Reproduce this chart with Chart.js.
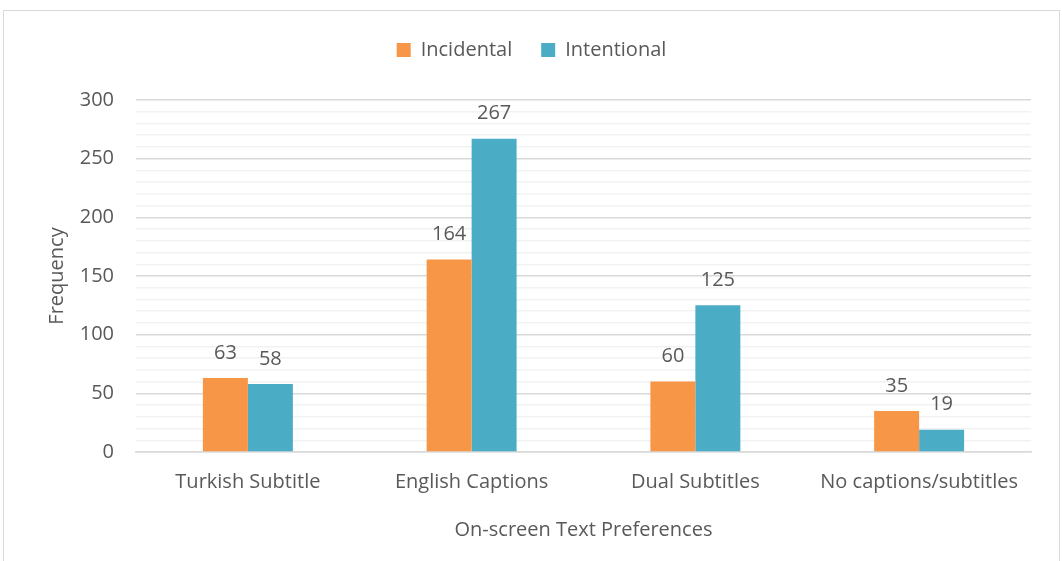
<!DOCTYPE html>
<html>
<head>
<meta charset="utf-8">
<script src="https://cdn.jsdelivr.net/npm/chart.js@4"></script>
<style>
  html, body { margin: 0; padding: 0; background: #fff; overflow: hidden; }
  #frame {
    position: absolute; left: 3px; top: 10px;
    width: 1055px; height: 551px;
    border: 1px solid #d9d9d9;
  }
</style>
</head>
<body>
<div id="frame"><canvas id="chart"></canvas></div>
<script>
const categories = ["Turkish Subtitle", "English Captions", "Dual Subtitles", "No captions/subtitles"];
const incidental = [63, 164, 60, 35];
const intentional = [58, 267, 125, 19];
const seriesNames = ["Incidental", "Intentional"];

const FONT = "'Open Sans', sans-serif";
const TEXT = "#595959";
const SIZE = 20;

// value labels above bars
const barLabels = {
  id: "barLabels",
  afterDatasetsDraw(chart) {
    const ctx = chart.ctx;
    ctx.save();
    ctx.font = SIZE + "px " + FONT;
    ctx.fillStyle = TEXT;
    ctx.textAlign = "center";
    ctx.textBaseline = "middle";
    chart.data.datasets.forEach((ds, i) => {
      chart.getDatasetMeta(i).data.forEach((bar, j) => {
        ctx.fillText(ds.data[j], bar.x, bar.y - 25);
      });
    });
    ctx.restore();
  }
};

// stretch the legend box so the plot starts lower
const legendSpace = {
  id: "legendSpace",
  beforeInit(chart) {
    const fit = chart.legend.fit;
    chart.legend.fit = function () {
      fit.call(this);
      this.height = 89;
    };
  }
};

new Chart(document.getElementById("chart"), {
  type: "bar",
  data: {
    labels: categories,
    datasets: [
      { label: seriesNames[0], data: incidental, backgroundColor: "#F79646" },
      { label: seriesNames[1], data: intentional, backgroundColor: "#4BACC6" }
    ]
  },
  options: {
    responsive: true,
    maintainAspectRatio: false,
    animation: false,
    layout: { padding: 0 },
    datasets: { bar: { categoryPercentage: 0.402, barPercentage: 1 } },
    plugins: {
      tooltip: { enabled: false },
      legend: {
        position: "top",
        labels: {
          font: { family: FONT, size: SIZE },
          color: TEXT,
          boxWidth: 14,
          boxHeight: 14,
          padding: 29
        }
      }
    },
    scales: {
      x: {
        grid: { display: false, drawTicks: false },
        border: { color: "#d9d9d9", width: 1.5 },
        ticks: { font: { family: FONT, size: SIZE }, color: TEXT, padding: 18 },
        title: {
          display: true,
          text: "On-screen Text Preferences",
          font: { family: FONT, size: SIZE },
          color: TEXT,
          padding: { top: 4, bottom: 20 }
        },
        afterFit(scale) { scale.height = 110; }
      },
      y: {
        min: 0,
        max: 300,
        border: { display: false },
        grid: {
          drawTicks: false,
          color: c => (c.tick && c.tick.value % 50 === 0) ? "#d9d9d9" : "#f2f2f2",
          lineWidth: 1.5
        },
        ticks: {
          stepSize: 10,
          autoSkip: false,
          font: { family: FONT, size: SIZE },
          color: TEXT,
          padding: 22,
          callback: v => (v % 50 === 0 ? v : "")
        },
        title: {
          display: true,
          text: "Frequency",
          font: { family: FONT, size: SIZE },
          color: TEXT,
          padding: { top: 41, bottom: 0 }
        },
        afterFit(scale) { scale.width = 132; }
      },
      // empty right-hand gutter
      yRight: {
        position: "right",
        min: 0,
        max: 300,
        grid: { display: false, drawTicks: false },
        border: { display: false },
        ticks: { display: false },
        afterFit(scale) { scale.width = 28; }
      }
    }
  },
  plugins: [barLabels, legendSpace]
});
</script>
</body>
</html>
